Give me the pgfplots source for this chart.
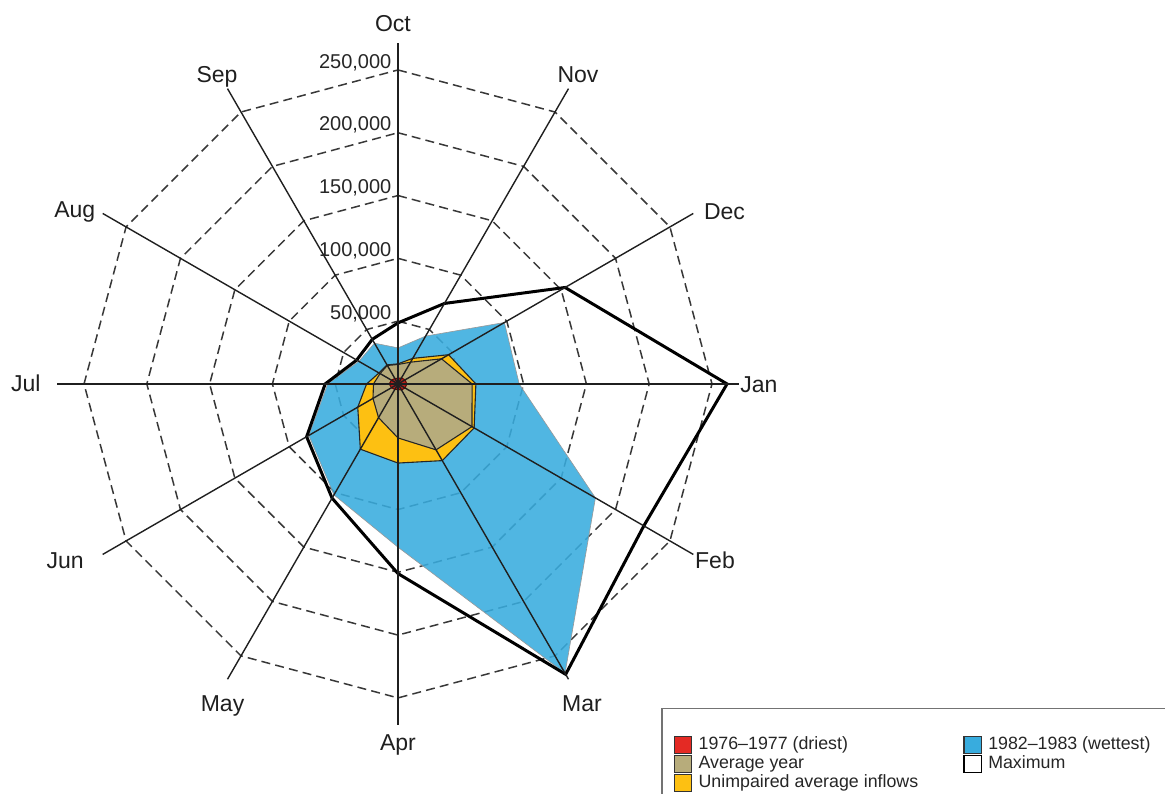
\documentclass[border=0pt]{standalone}
\usepackage{fontspec}
\setmainfont{Liberation Sans}
\usepackage{pgfplots}
\usepackage{pgfplotstable}
\pgfplotsset{compat=1.18}
\definecolor{cRed}{RGB}{228,42,36}
\definecolor{cOlive}{RGB}{183,172,123}
\definecolor{cYel}{RGB}{253,192,18}
\definecolor{cBlue}{RGB}{56,172,222}
\pgfplotsset{
  ringst/.style={forget plot, mark=none, data cs=polar, draw=black!78, line width=0.75pt, dash pattern=on 4.5pt off 2.6pt},
  spokest/.style={forget plot, mark=none, data cs=polar, draw=black!88, line width=0.7pt},
  polyst/.style={forget plot, mark=none, data cs=polar},
}
\tikzset{
  mlab/.style={inner sep=0pt, text height=8.2pt, text depth=0pt, text=black!88, font=\fontsize{11.5}{13}\selectfont},
  tlab/.style={anchor=base east, inner sep=0pt, text=black!85, font=\fontsize{10}{12}\selectfont},
}
% values in thousands of acre-feet; angle: Oct at top, clockwise
\pgfplotstableread{
month angle dry avg unimp wet max
Oct 90   4.5 15.5 16.0 28.7 48.6
Nov 60   5.5 20.0 23.5 44.0 74.0
Dec 30   6.5 40.0 46.5 97.8 153.6
Jan 0    7.0 59.0 62.0 96.5 262.0
Feb -30  6.5 68.0 70.0 181.5 226.0
Mar -60  5.5 60.6 70.5 266.0 267.0
Apr -90  4.5 43.0 63.0 130.0 151.0
May -120 5.0 31.0 60.0 102.0 105.0
Jun -150 6.0 23.0 37.0 82.0 84.0
Jul -180 7.0 19.5 25.0 56.0 58.0
Aug -210 6.0 16.5 17.5 36.0 38.0
Sep -240 5.0 17.0 17.5 37.5 41.0
}\data

\begin{document}
\begin{tikzpicture}
\begin{axis}[
  x=0.628pt, y=0.628pt,
  xmin=-316.9, xmax=610.7, ymin=-326.4, ymax=305.7,
  hide axis, clip=false,
  legend columns=2,
  legend cell align=left,
  legend image code/.code={\draw[line width=0.7pt,#1] (0pt,-4.3pt) rectangle (8.6pt,4.3pt);},
  legend style={at={(0.5674,0.1083)}, anchor=north west, draw=black!55, line width=0.8pt,
    inner xsep=6pt, inner ysep=13.5pt, font=\fontsize{8.9}{10}\selectfont, text=black!85,
    nodes={inner sep=0.6pt, text height=6.4pt, text depth=1.9pt},
    /tikz/every odd column/.append style={column sep=2.5pt},
    /tikz/every even column/.append style={column sep=22pt}},
]
\coordinate (BL) at (rel axis cs:0,0);
\coordinate (TR) at (rel axis cs:1,1);

% rings
\pgfplotsinvokeforeach{50,100,150,200,250}{
  \addplot[ringst] coordinates {(90,#1) (60,#1) (30,#1) (0,#1) (-30,#1) (-60,#1) (-90,#1) (-120,#1) (-150,#1) (180,#1) (150,#1) (120,#1) (90,#1)};
}

% series
\addplot[polyst, fill=cBlue, fill opacity=0.88, draw=black!40, line width=0.3pt] table[x=angle,y=wet]{\data} -- cycle;
\addplot[polyst, draw=black, line width=1.5pt] table[x=angle,y=max]{\data} -- cycle;
\addplot[polyst, fill=cYel, draw=black!85, line width=0.55pt] table[x=angle,y=unimp]{\data} -- cycle;
\addplot[polyst, fill=cOlive, draw=black!85, line width=0.55pt] table[x=angle,y=avg]{\data} -- cycle;
\addplot[polyst, fill=cRed!80!black, draw=black!60!red, line width=0.5pt] table[x=angle,y=dry]{\data} -- cycle;

% spokes
\pgfplotsinvokeforeach{90,60,30,0,-30,-60,-90,-120,-150,180,150,120}{
  \addplot[spokest] coordinates {(#1,0) (#1,271.5)};
}

% legend
\addlegendimage{fill=cRed, draw=black!80}\addlegendentry{1976--1977 (driest)}
\addlegendimage{fill=cBlue, draw=black!80}\addlegendentry{1982--1983 (wettest)\hspace*{14pt}}
\addlegendimage{fill=cOlive, draw=black!80}\addlegendentry{Average year}
\addlegendimage{fill=white, draw=black, line width=1.3pt}\addlegendentry{Maximum}
\addlegendimage{fill=cYel, draw=black!80}\addlegendentry{Unimpaired average inflows}

% radial tick labels
\node[tlab] at (axis cs:-5,51.5) {50,000};
\node[tlab] at (axis cs:-5,101.5) {100,000};
\node[tlab] at (axis cs:-5,151.5) {150,000};
\node[tlab] at (axis cs:-5,201.5) {200,000};
\node[tlab] at (axis cs:-5,251.5) {250,000};

% month labels
\node[mlab] at (axis cs:-4,287.4) {Oct};
\node[mlab] at (axis cs:143.3,246.8) {Nov};
\node[mlab] at (axis cs:260.0,137.7) {Dec};
\node[mlab, anchor=west] at (axis cs:272.3,0) {Jan};
\node[mlab] at (axis cs:252.4,-140.1) {Feb};
\node[mlab] at (axis cs:146.5,-254.0) {Mar};
\node[mlab] at (axis cs:0,-285.0) {Apr};
\node[mlab] at (axis cs:-139.7,-254.0) {May};
\node[mlab] at (axis cs:-265.1,-140.1) {Jun};
\node[mlab] at (axis cs:-296.3,0.8) {Jul};
\node[mlab] at (axis cs:-257.4,139.3) {Aug};
\node[mlab] at (axis cs:-144.1,246.8) {Sep};
\end{axis}
\pgfresetboundingbox
\path[use as bounding box] (BL) rectangle (TR);
\end{tikzpicture}
\end{document}
